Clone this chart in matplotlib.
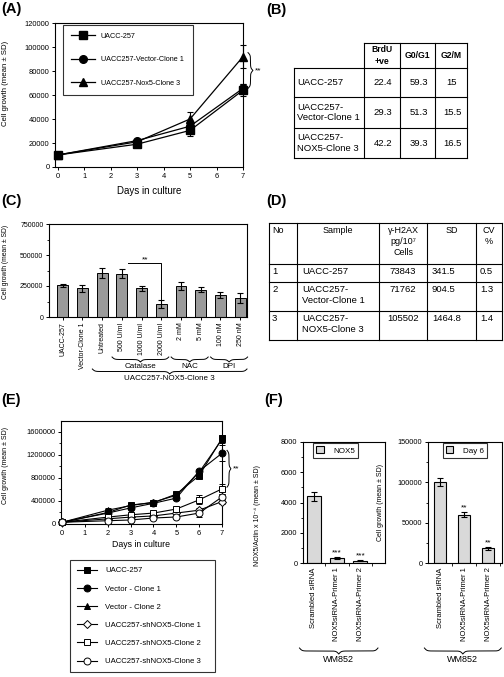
import numpy as np
import matplotlib
matplotlib.use('Agg')
import matplotlib.pyplot as plt
from matplotlib.ticker import MultipleLocator, FixedLocator
from matplotlib.transforms import blended_transform_factory
from matplotlib.lines import Line2D
from matplotlib.patches import Patch

plt.rcParams['font.family'] = ['Liberation Sans', 'DejaVu Sans']
plt.rcParams['axes.linewidth'] = 0.8
plt.rcParams['xtick.major.width'] = 0.7
plt.rcParams['ytick.major.width'] = 0.7
plt.rcParams['xtick.minor.width'] = 0.6
plt.rcParams['ytick.minor.width'] = 0.6
plt.rcParams['xtick.major.size'] = 2.5
plt.rcParams['ytick.major.size'] = 2.5
plt.rcParams['xtick.minor.size'] = 1.5
plt.rcParams['ytick.minor.size'] = 1.5
plt.rcParams['xtick.major.pad'] = 1.5
plt.rcParams['ytick.major.pad'] = 1.5
plt.rcParams['legend.fancybox'] = False

# (A) growth curves
a_days = [0, 3, 5, 7]
a_uacc = [10000, 19000, 30500, 64000]
a_uacc_err = [800, 1000, 5000, 5000]
a_vec = [10000, 22000, 34000, 65500]
a_vec_err = [800, 1000, 3000, 4000]
a_nox5 = [10000, 21000, 40000, 92000]
a_nox5_err = [800, 1000, 6000, 9500]
a_labels = ['UACC-257', 'UACC257-Vector-Clone 1', 'UACC257-Nox5-Clone 3']

# (B) cell cycle table
b_header = ['BrdU\n+ve', 'G0/G1', 'G2/M']
b_samples = ['UACC-257', 'UACC257-\nVector-Clone 1', 'UACC257-\nNOX5-Clone 3']
b_brdu = [22.4, 29.3, 42.2]
b_g0g1 = [59.3, 51.3, 39.3]
b_g2m = [15, 15.5, 16.5]

# (C) treatments
c_labels = ['UACC-257', 'Vector-Clone 1', 'Untreated', '500 U/ml', '1000 U/ml',
            '2000 U/ml', '2 mM', '5 mM', '100 nM', '250 nM']
c_vals = [255000, 230000, 355000, 350000, 230000, 105000, 250000, 220000, 175000, 150000]
c_err = [12000, 25000, 38000, 35000, 20000, 35000, 32000, 20000, 25000, 40000]
c_groups = [('Catalase', 3, 5), ('NAC', 6, 7), ('DPI', 8, 9)]
c_parent = ('UACC257-NOX5-Clone 3', 2, 9)

# (D) gamma-H2AX table
d_header = ['No', 'Sample', 'γ-H2AX\npg/10⁷\nCells', 'SD', 'CV\n%']
d_no = [1, 2, 3]
d_samples = ['UACC-257', 'UACC257-\nVector-Clone 1', 'UACC257-\nNOX5-Clone 3']
d_h2ax = [73843, 71762, 105502]
d_sd = [341.5, 904.5, 1464.8]
d_cv = [0.5, 1.3, 1.4]

# (E) growth curves shNOX5
e_days = [0, 2, 3, 4, 5, 6, 7]
e_uacc = [30000, 200000, 330000, 370000, 520000, 840000, 1490000]
e_uacc_err = [10000, 20000, 30000, 20000, 30000, 40000, 60000]
e_vec1 = [30000, 190000, 280000, 360000, 450000, 920000, 1230000]
e_vec1_err = [10000, 20000, 20000, 20000, 30000, 40000, 140000]
e_vec2 = [30000, 240000, 320000, 380000, 500000, 900000, 1470000]
e_vec2_err = [10000, 30000, 20000, 20000, 30000, 40000, 60000]
e_sh1 = [30000, 90000, 120000, 140000, 190000, 240000, 390000]
e_sh1_err = [5000, 10000, 10000, 10000, 20000, 30000, 40000]
e_sh2 = [30000, 120000, 160000, 190000, 260000, 420000, 610000]
e_sh2_err = [5000, 20000, 20000, 20000, 30000, 80000, 80000]
e_sh3 = [30000, 57000, 70000, 104000, 122000, 190000, 470000]
e_sh3_err = [5000, 10000, 10000, 10000, 20000, 60000, 50000]
e_labels = ['UACC-257', 'Vector - Clone 1', 'Vector - Clone 2',
            'UACC257-shNOX5-Clone 1', 'UACC257-shNOX5-Clone 2', 'UACC257-shNOX5-Clone 3']

# (F) siRNA
f_labels = ['Scrambled siRNA', 'NOX5siRNA-Primer 1', 'NOX5siRNA-Primer 2']
f_nox5 = [4400, 330, 150]
f_nox5_err = [300, 50, 30]
f_nox5_sig = ['', '***', '***']
f_growth = [100000, 60000, 18000]
f_growth_err = [5000, 3500, 2000]
f_growth_sig = ['', '**', '**']

W, H = 504, 677
fig = plt.figure(figsize=(W / 100, H / 100), dpi=100)


def px_axes(l, t, r, b):
    return fig.add_axes([l / W, 1 - b / H, (r - l) / W, (b - t) / H])


canvas = fig.add_axes([0, 0, 1, 1], zorder=5)
canvas.set_xlim(0, W)
canvas.set_ylim(H, 0)
canvas.axis('off')


def brace_shape(n, beta_units, span):
    t = np.linspace(0, span, n)
    half = t[: n // 2 + 1]
    v = 1 / (1 + np.exp(-beta_units * (half - half[0]))) + \
        1 / (1 + np.exp(-beta_units * (half - half[-1])))
    return np.concatenate([v, v[-2::-1]])


def hbrace(ax, x0, x1, ytop, h, text, fs):
    tr = blended_transform_factory(ax.transData, canvas.transData)
    ppu = ax.transData.transform((1, 0))[0] - ax.transData.transform((0, 0))[0]
    xs = np.linspace(x0, x1, 401)
    v = brace_shape(401, 0.8 * ppu, x1 - x0)
    canvas.plot(xs, ytop + h * (v - 0.5), transform=tr, color='black', lw=0.7)
    canvas.text((x0 + x1) / 2, ytop + h + 1, text, transform=tr, ha='center',
                va='top', fontsize=fs)


def vbrace(ax, y0, y1, xleft, w, text):
    tr = blended_transform_factory(canvas.transData, ax.transData)
    ppu = ax.transData.transform((0, 1))[1] - ax.transData.transform((0, 0))[1]
    ys = np.linspace(y0, y1, 401)
    v = brace_shape(401, 0.8 * ppu, y1 - y0)
    canvas.plot(xleft + w * (v - 0.5), ys, transform=tr, color='black', lw=0.7)
    canvas.text(xleft + w + 1.5, (y0 + y1) / 2, text, transform=tr, ha='left',
                va='center', fontsize=6)


def style_ax(ax, fs):
    ax.tick_params(labelsize=fs)
    ax.ticklabel_format(axis='y', style='plain')
    ax.patch.set_alpha(0)


# panel letters
for lab, x, y in [('(A)', 1, 2), ('(B)', 266, 3), ('(C)', 1, 194),
                  ('(D)', 266, 194), ('(E)', 1, 393), ('(F)', 264, 393)]:
    canvas.text(x, y, lab, fontsize=10.5, fontweight='bold', ha='left', va='top')

# ---------------- (A)
axA = px_axes(55, 23, 243, 167)
handles = []
for y, e, m in zip([a_uacc, a_vec, a_nox5], [a_uacc_err, a_vec_err, a_nox5_err], ['s', 'o', '^']):
    axA.errorbar(a_days, y, yerr=e, color='black', marker=m, ms=5.5, lw=0.9,
                 elinewidth=0.8, capsize=2.5, capthick=0.8, clip_on=False, zorder=3)
    handles.append(Line2D([], [], color='black', marker=m, ms=5.5, lw=0.9))
axA.set_xlim(-0.1, 7)
axA.set_ylim(0, 120000)
axA.xaxis.set_major_locator(MultipleLocator(1))
axA.yaxis.set_major_locator(MultipleLocator(20000))
style_ax(axA, 5.4)
axA.set_xlabel('Days in culture', fontsize=7)
axA.set_ylabel('Cell growth (mean ± SD)', fontsize=5.6)
axA.xaxis.set_label_coords(0.5, -0.13)
axA.yaxis.set_label_coords(-0.245, 0.58)
legA = axA.legend(handles, a_labels, loc='upper left', bbox_to_anchor=(0.043, 0.986, 0.69, 0),
                  mode='expand', borderaxespad=0, fontsize=5.2, handlelength=3.3,
                  handletextpad=0.8, labelspacing=2.25, borderpad=1.1, frameon=True,
                  edgecolor='black')
legA.get_frame().set_linewidth(0.8)
vbrace(axA, a_vec[-1], a_nox5[-1] + 0.35 * a_nox5_err[-1], 248, 5, '**')

# ---------------- (B) table
bx = [294, 364, 400, 435, 467]
by = [43, 68, 97, 128, 158]
lk = dict(color='black', lw=0.8)
canvas.plot([bx[1], bx[-1]], [by[0], by[0]], **lk)
for yy in by[1:]:
    canvas.plot([bx[0], bx[-1]], [yy, yy], **lk)
canvas.plot([bx[0], bx[0]], [by[1], by[-1]], **lk)
for xx in bx[1:]:
    canvas.plot([xx, xx], [by[0], by[-1]], **lk)
for j, hd in enumerate(b_header):
    canvas.text((bx[j + 1] + bx[j + 2]) / 2, (by[0] + by[1]) / 2, hd, ha='center',
                va='center', fontsize=6.2, fontweight='bold', linespacing=1.3)
for i, s in enumerate(b_samples):
    yc = (by[i + 1] + by[i + 2]) / 2
    canvas.text(bx[0] + 3, yc, s, ha='left', va='center', fontsize=6.8, linespacing=1.25)
    for j, col in enumerate([b_brdu, b_g0g1, b_g2m]):
        canvas.text((bx[j + 1] + bx[j + 2]) / 2 + 1, yc, f'{col[i]:g}', ha='center',
                    va='center', fontsize=6.8)

# ---------------- (C)
axC = px_axes(49, 224, 247, 317)
xc = np.arange(len(c_labels))
axC.bar(xc, c_vals, width=0.55, color='#9a9a9a', edgecolor='black', linewidth=0.7,
        yerr=c_err, capsize=2.5, error_kw=dict(elinewidth=0.8, capthick=0.8))
axC.set_xlim(-0.7, 9.35)
axC.set_ylim(0, 750000)
axC.set_xticks(xc)
axC.set_xticklabels(c_labels, rotation=90)
axC.yaxis.set_major_locator(MultipleLocator(250000))
axC.yaxis.set_minor_locator(MultipleLocator(125000))
style_ax(axC, 5)
axC.set_ylabel('Cell growth (mean ± SD)', fontsize=4.9)
axC.yaxis.set_label_coords(-0.2, 0.59)
# significance between 500 U/ml and 2000 U/ml
sig_top = c_vals[3] + c_err[3] + 50000
axC.plot([3.3, 5, 5], [sig_top, sig_top, c_vals[5] + c_err[5] + 5000], color='black', lw=0.7)
axC.text(4.2, sig_top, '**', ha='center', va='bottom', fontsize=6)
for name, i0, i1 in c_groups:
    hbrace(axC, i0 - 0.5, i1 + 0.38, 357, 5, name, 5.8)
hbrace(axC, c_parent[1] - 0.5, c_parent[2] + 0.35, 369, 5, c_parent[0], 5.8)

# ---------------- (D) table
dx = [269, 297, 379, 427, 476, 502]
dy = [223, 264, 282, 311, 340]
for yy in dy:
    canvas.plot([dx[0], dx[-1]], [yy, yy], **lk)
for xx in dx:
    canvas.plot([xx, xx], [dy[0], dy[-1]], **lk)
canvas.text(dx[0] + 3, dy[0] + 3, d_header[0], ha='left', va='top', fontsize=6.5)
for j in range(1, 5):
    canvas.text((dx[j] + dx[j + 1]) / 2, dy[0] + 3, d_header[j], ha='center', va='top',
                fontsize=6.5, linespacing=1.3)
for i in range(3):
    yt = dy[i + 1] + 3
    canvas.text(dx[0] + 3, yt, str(d_no[i]), ha='left', va='top', fontsize=6.8)
    canvas.text(dx[1] + 5, yt, d_samples[i], ha='left', va='top', fontsize=6.8, linespacing=1.35)
    canvas.text((dx[2] + dx[3]) / 2, yt, str(d_h2ax[i]), ha='center', va='top', fontsize=6.8)
    canvas.text(dx[3] + 5, yt, f'{d_sd[i]:g}', ha='left', va='top', fontsize=6.8)
    canvas.text(dx[4] + 4, yt, f'{d_cv[i]:g}', ha='left', va='top', fontsize=6.8)

# ---------------- (E)
axE = px_axes(61, 421, 222, 524)
e_series = [(e_uacc, e_uacc_err, 's', 'black'), (e_vec1, e_vec1_err, 'o', 'black'),
            (e_vec2, e_vec2_err, '^', 'black'), (e_sh1, e_sh1_err, 'D', 'white'),
            (e_sh2, e_sh2_err, 's', 'white'), (e_sh3, e_sh3_err, 'o', 'white')]
e_handles = []
for y, e, m, fc in e_series:
    ms = 3.8 if m == 'D' else 5
    axE.errorbar(e_days, y, yerr=e, color='black', marker=m, mfc=fc, mec='black', ms=ms,
                 mew=0.7, lw=0.8, elinewidth=0.7, capsize=2, capthick=0.7, clip_on=False,
                 zorder=3)
    e_handles.append(Line2D([], [], color='black', marker=m, mfc=fc, mec='black',
                            ms=ms, mew=0.7, lw=0.8))
axE.set_xlim(-0.05, 7)
axE.set_ylim(0, 1790000)
axE.xaxis.set_major_locator(MultipleLocator(1))
axE.yaxis.set_major_locator(MultipleLocator(400000))
axE.yaxis.set_minor_locator(MultipleLocator(200000))
style_ax(axE, 5.4)
axE.set_xlabel('Days in culture', fontsize=6.3)
axE.set_ylabel('Cell growth (mean ± SD)', fontsize=5)
axE.xaxis.set_label_coords(0.5, -0.16)
axE.yaxis.set_label_coords(-0.32, 0.57)
vbrace(axE, e_sh2[-1] + 30000, e_vec1[-1] + 50000, 227, 4, '**')
legE = fig.legend(e_handles, e_labels, loc='upper left',
                  bbox_to_anchor=(70 / W, 1 - 560 / H, 145 / W, 0), mode='expand',
                  borderaxespad=0, fontsize=5.6, handlelength=2.6, handletextpad=1.0,
                  labelspacing=1.38, borderpad=0.9, frameon=True, edgecolor='black')
legE.get_frame().set_linewidth(0.8)

# ---------------- (F)
xf = np.arange(3)
axF1 = px_axes(303, 442, 385, 563)
axF1.bar(xf, f_nox5, width=0.6, color='#d9d9d9', edgecolor='black', linewidth=0.8,
         yerr=f_nox5_err, capsize=2.5, error_kw=dict(elinewidth=0.8, capthick=0.8))
axF1.set_xlim(-0.45, 3.05)
axF1.set_ylim(0, 8000)
axF1.yaxis.set_major_locator(MultipleLocator(2000))
axF1.yaxis.set_minor_locator(MultipleLocator(1000))
axF1.set_ylabel('NOX5/Actin x 10⁻⁴ (mean ± SD)', fontsize=5)
axF1.yaxis.set_label_coords(-0.51, 0.39)
for i, s in enumerate(f_nox5_sig):
    axF1.annotate(s, (i, f_nox5[i] + f_nox5_err[i]), xytext=(0, 0.5), textcoords='offset points',
                  ha='center', va='bottom', fontsize=6)

axF2 = px_axes(428, 442, 502, 563)
axF2.bar(xf, f_growth, width=0.52, color='#d9d9d9', edgecolor='black', linewidth=0.8,
         yerr=f_growth_err, capsize=2.5, error_kw=dict(elinewidth=0.8, capthick=0.8))
axF2.set_xlim(-0.5, 2.58)
axF2.set_ylim(0, 150000)
axF2.yaxis.set_major_locator(MultipleLocator(50000))
axF2.yaxis.set_minor_locator(MultipleLocator(25000))
axF2.set_ylabel('Cell growth (mean ± SD)', fontsize=5)
axF2.yaxis.set_label_coords(-0.6, 0.5)
for i, s in enumerate(f_growth_sig):
    axF2.annotate(s, (i, f_growth[i] + f_growth_err[i]), xytext=(0, 0.5), textcoords='offset points',
                  ha='center', va='bottom', fontsize=6)

for ax, leglab in [(axF1, 'NOX5'), (axF2, 'Day 6')]:
    style_ax(ax, 5.3)
    ax.set_xticks(xf)
    ax.set_xticklabels(f_labels, rotation=90, fontsize=5.5)
    ax.tick_params(axis='x', which='major', length=0, pad=3)
    ax.xaxis.set_minor_locator(FixedLocator([0.5, 1.5, 2.5]))
    ax.tick_params(axis='x', which='minor', length=2.5)
    ax.yaxis.set_label_position('left')
    lg = ax.legend([Patch(facecolor='#d9d9d9', edgecolor='black', lw=0.8)], [leglab],
                   loc='upper center', bbox_to_anchor=(0.5 if ax is axF2 else 0.4, 0.99),
                   borderaxespad=0, fontsize=5.8, handlelength=0.9, handleheight=0.9,
                   handletextpad=1.2, borderpad=0.4, frameon=True, edgecolor='black')
    lg.get_frame().set_linewidth(0.8)
    hbrace(ax, -0.6 if ax is axF1 else -0.65, 2.75 if ax is axF1 else 2.55, 648, 6, 'WM852', 6.5)

fig.savefig('out.png', dpi=100)
